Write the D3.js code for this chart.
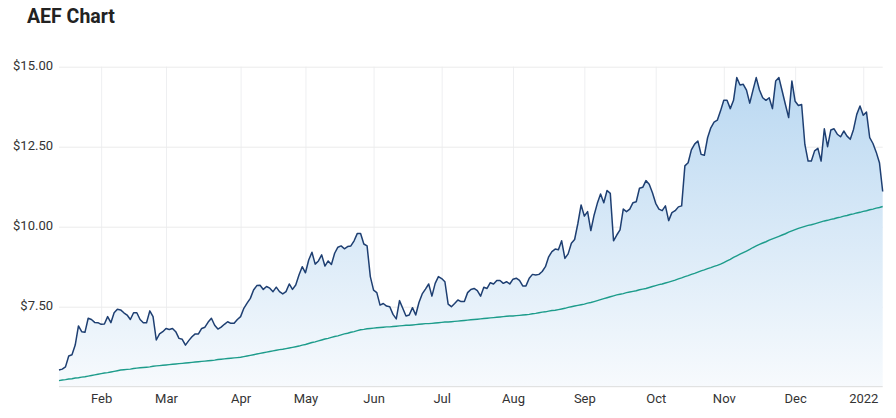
<!DOCTYPE html>
<html>
<head>
<meta charset="utf-8">
<script src="https://cdn.jsdelivr.net/npm/d3@7"></script>
<style>
  body { margin: 0; background: #fff; font-family: Roboto, "Noto Sans", sans-serif; }
  #chart { width: 896px; height: 418px; }
</style>
</head>
<body>
<div id="chart"></div>
<script>
// daily closes, one per trading day (mid Jan 2021 -> mid Jan 2022)
var prices = [
  5.52,5.55,5.62,5.96,6.00,6.30,6.90,6.72,6.70,7.14,
  7.10,7.01,7.00,6.95,6.96,7.19,7.00,7.31,7.42,7.40,
  7.31,7.24,7.10,7.31,7.31,7.10,7.00,7.00,7.37,7.19,
  6.46,6.65,6.72,6.82,6.79,6.82,6.72,6.51,6.48,6.30,
  6.44,6.56,6.65,6.65,6.82,6.86,7.02,7.14,6.92,6.80,
  6.86,6.95,7.03,6.98,6.98,7.10,7.19,7.45,7.61,7.76,
  8.02,8.16,8.17,8.04,8.13,8.08,7.97,8.11,7.97,7.90,
  7.97,8.21,8.04,8.18,8.49,8.75,8.56,8.96,9.20,8.83,
  8.93,9.12,8.77,8.93,8.82,9.17,9.36,9.40,9.31,9.38,
  9.40,9.56,9.79,9.79,9.46,9.40,8.44,8.02,7.94,7.55,
  7.60,7.52,7.50,7.26,7.12,7.69,7.45,7.21,7.24,7.47,
  7.24,7.63,7.90,8.05,8.21,7.83,8.23,8.44,8.38,8.28,
  7.58,7.50,7.60,7.71,7.66,7.66,7.94,8.04,8.07,8.00,
  7.83,8.11,8.07,8.25,8.21,8.32,8.32,8.23,8.28,8.21,
  8.36,8.39,8.32,8.15,8.15,8.39,8.51,8.49,8.51,8.60,
  8.75,9.06,9.22,9.30,9.28,9.56,9.01,9.15,9.48,9.60,
  10.10,10.68,10.33,10.47,9.88,10.36,10.73,11.02,10.75,11.13,
  11.04,9.56,9.74,9.90,10.55,10.47,10.55,10.75,10.78,11.20,
  11.23,11.44,11.33,11.06,10.73,10.55,10.50,10.65,10.19,10.44,
  10.50,10.62,10.65,11.90,12.00,12.40,12.58,12.68,12.26,12.23,
  12.78,13.09,13.27,13.33,13.62,13.95,13.95,13.69,13.95,14.66,
  14.43,14.45,14.27,13.86,14.27,14.66,14.27,14.03,13.95,14.03,
  13.69,14.55,14.66,14.24,13.82,13.41,14.55,13.92,13.79,13.82,
  12.57,12.05,12.05,12.37,12.45,12.05,13.06,12.50,13.02,13.06,
  12.89,12.81,12.99,12.83,12.73,13.04,13.51,13.77,13.48,13.58,
  12.78,12.60,12.33,12.00,11.10
];

// moving average, same days
var movingAvg = [
  5.19,5.21,5.22,5.24,5.25,5.27,5.28,5.30,5.31,5.33,
  5.35,5.37,5.39,5.41,5.43,5.44,5.46,5.48,5.50,5.52,
  5.53,5.54,5.55,5.57,5.58,5.59,5.60,5.61,5.62,5.64,5.65,
  5.66,5.67,5.68,5.69,5.70,5.71,5.72,5.73,5.74,5.75,
  5.76,5.77,5.78,5.79,5.80,5.81,5.82,5.83,5.85,5.86,
  5.87,5.88,5.89,5.90,5.91,5.92,
  5.94,5.96,5.98,6.00,6.02,6.04,6.06,
  6.08,6.10,6.12,6.14,6.16,6.17,6.19,6.21,6.23,6.25,6.27,
  6.30,6.32,6.35,6.38,6.40,6.43,6.46,6.49,6.51,6.54,6.57,6.59,6.62,6.65,6.67,6.70,6.72,6.75,6.78,
  6.79,6.81,6.82,6.83,6.84,6.85,6.86,
  6.87,6.87,6.88,6.89,6.90,6.91,6.92,6.92,6.93,6.94,6.95,6.96,6.97,6.97,6.98,6.99,7.00,7.01,7.02,7.02,7.03,7.04,7.05,7.06,7.07,7.08,
  7.09,7.10,7.11,7.12,7.13,7.14,7.15,7.16,7.17,7.18,7.19,7.20,7.21,7.21,7.22,7.23,7.24,7.25,7.26,
  7.28,7.29,7.31,7.33,7.34,7.36,7.38,7.39,7.41,
  7.43,7.45,7.48,7.50,7.52,7.54,7.56,7.58,7.61,7.63,
  7.66,7.69,7.72,7.75,7.78,7.81,7.84,7.87,
  7.89,7.91,7.94,7.96,7.98,8.00,8.03,8.05,8.07,
  8.10,8.13,8.16,8.19,8.21,8.24,8.27,8.30,8.33,
  8.37,8.40,8.44,8.47,8.51,8.54,8.58,8.62,8.65,8.69,8.72,8.76,8.79,8.83,
  8.88,8.93,8.98,9.04,9.09,9.14,9.19,9.24,9.29,9.35,9.40,9.45,
  9.49,9.53,9.58,9.62,9.66,9.70,9.74,9.78,9.83,9.87,9.91,9.95,
  9.98,10.01,10.04,10.06,10.09,10.12,10.15,10.18,10.20,10.23,
  10.25,10.28,10.30,10.33,10.35,10.38,10.40,10.43,10.45,10.48,10.50,10.53,10.55,10.58,10.60,10.63
];

// first trading day of each month (index into prices)
var monthIdx = [13,33,56,76,97,118,140,162,184,205,227,248];
var monthLabels = ['Feb','Mar','Apr','May','Jun','Jul','Aug','Sep','Oct','Nov','Dec','2022'];

var yTicks = [7.5,10,12.5,15];

var margin = {top: 66.7, left: 59, right: 13.3, bottom: 31.3};
var W = 896, H = 418;
var w = W - margin.left - margin.right;
var h = H - margin.top - margin.bottom;

var svg = d3.select('#chart').append('svg')
  .attr('width', W)
  .attr('height', H);

svg.append('text')
  .attr('x', 27)
  .attr('y', 23)
  .style('font-size', '19.5px')
  .style('font-weight', '700')
  .style('fill', '#222')
  .text('AEF Chart');

var g = svg.append('g').attr('transform', 'translate(' + margin.left + ',' + margin.top + ')');

var x = d3.scaleLinear().domain([0, prices.length - 1]).range([0, w]);
var y = d3.scaleLinear().domain([5, 15]).range([h, 0]);

// gradient for the area
var grad = svg.append('defs').append('linearGradient')
  .attr('id', 'fillGrad')
  .attr('gradientUnits', 'userSpaceOnUse')
  .attr('x1', 0).attr('x2', 0)
  .attr('y1', y(15)).attr('y2', y(5));
grad.append('stop').attr('offset', '0%').attr('stop-color', '#b8d7f1');
grad.append('stop').attr('offset', '100%').attr('stop-color', '#f7fafd');

// grid
g.append('g')
  .attr('class', 'xgrid')
  .call(d3.axisBottom(x).tickValues(monthIdx).tickSize(h).tickFormat(''))
  .call(function(s){
    s.select('.domain').remove();
    s.selectAll('line').attr('stroke', '#eeeff1');
  });

g.append('g')
  .attr('class', 'ygrid')
  .call(d3.axisLeft(y).tickValues(yTicks).tickSize(-w).tickFormat(''))
  .call(function(s){
    s.select('.domain').remove();
    s.selectAll('line').attr('stroke', '#ebebeb');
  });

// area + lines
var area = d3.area()
  .x(function(d, i){ return x(i); })
  .y0(h)
  .y1(function(d){ return y(d); });

g.append('path')
  .datum(prices)
  .attr('d', area)
  .attr('fill', 'url(#fillGrad)');

var line = d3.line()
  .x(function(d, i){ return x(i); })
  .y(function(d){ return y(d); });

g.append('path')
  .datum(movingAvg)
  .attr('d', line)
  .attr('fill', 'none')
  .attr('stroke', '#1d9c8b')
  .attr('stroke-width', 1.4);

g.append('path')
  .datum(prices)
  .attr('d', line)
  .attr('fill', 'none')
  .attr('stroke', '#1e3f72')
  .attr('stroke-width', 1.5)
  .attr('stroke-linejoin', 'round');

// bottom axis line + labels
g.append('line')
  .attr('x1', 0).attr('x2', w)
  .attr('y1', h).attr('y2', h)
  .attr('stroke', '#dcdcdc');

var xAxis = g.append('g')
  .attr('transform', 'translate(0,' + h + ')')
  .call(d3.axisBottom(x).tickValues(monthIdx).tickSize(0).tickPadding(7)
    .tickFormat(function(d){ return monthLabels[monthIdx.indexOf(d)]; }));
xAxis.select('.domain').remove();
xAxis.selectAll('text')
  .style('font-size', '13px')
  .style('font-family', 'Roboto, sans-serif')
  .style('fill', '#333');

var yAxis = g.append('g')
  .call(d3.axisLeft(y).tickValues(yTicks).tickSize(0).tickPadding(6)
    .tickFormat(function(d){ return '$' + d.toFixed(2); }));
yAxis.select('.domain').remove();
yAxis.selectAll('text')
  .attr('dy', '0.25em')
  .style('font-size', '13px')
  .style('font-family', 'Roboto, sans-serif')
  .style('fill', '#333');
</script>
</body>
</html>
